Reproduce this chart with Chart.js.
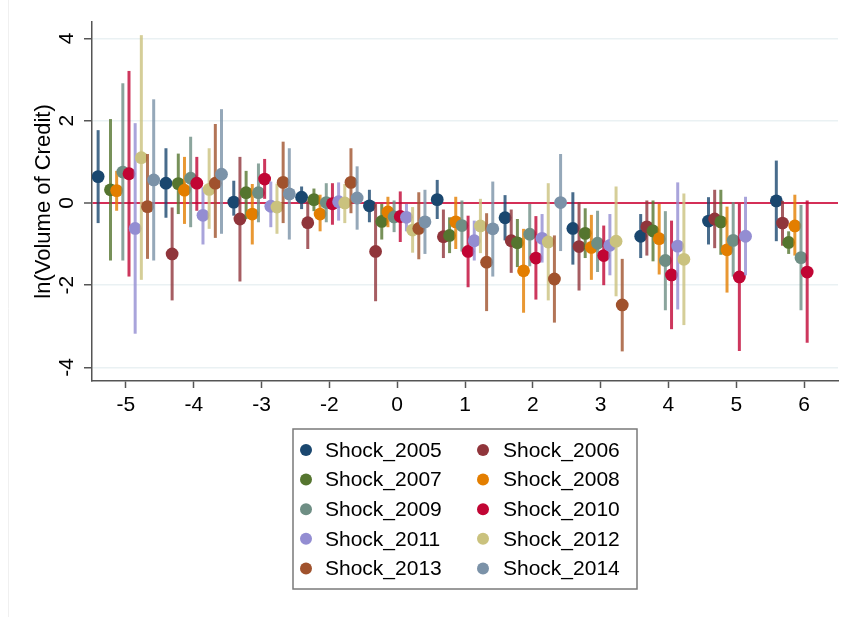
<!DOCTYPE html>
<html><head><meta charset="utf-8">
<script src="https://cdn.jsdelivr.net/npm/chart.js@4.4.1/dist/chart.umd.min.js"></script>
<style>html,body{margin:0;padding:0;background:#fff}</style>
</head><body>
<canvas id="c" width="851" height="617"></canvas>
<script>
// ---- data ----
const categories = ['-5','-4','-3','-2','0','1','2','3','4','5','6'];
const yTickValues = [-4, -2, 0, 2, 4];
const seriesNames = ['Shock_2005','Shock_2006','Shock_2007','Shock_2008','Shock_2009',
                     'Shock_2010','Shock_2011','Shock_2012','Shock_2013','Shock_2014'];
const yTitle = 'ln(Volume of Credit)';

const coef_2005 = [0.64, 0.48, 0.02, 0.14, -0.07, 0.08, -0.36, -0.62, -0.81, -0.44, 0.05];
const hi_2005   = [1.77, 1.33, 0.54, 0.40, 0.32, 0.56, 0.19, 0.26, -0.27, 0.14, 1.03];
const lo_2005   = [-0.49, -0.36, -0.31, -0.15, -0.47, -0.39, -0.91, -1.50, -1.34, -1.01, -0.93];

const coef_2006 = [null, -1.24, -0.39, -0.48, -1.18, -0.82, -0.92, -1.06, -0.58, -0.39, -0.49];
const hi_2006   = [null, -0.11, 1.12, 0.06, 0.00, -0.16, -0.16, 0.02, 0.06, 0.32, 0.05];
const lo_2006   = [null, -2.37, -1.91, -1.12, -2.39, -1.34, -1.70, -2.13, -1.28, -1.10, -1.04];

const coef_2007 = [0.32, 0.47, 0.25, 0.08, -0.45, -0.79, -0.97, -0.74, -0.68, -0.46, -0.96];
const hi_2007   = [2.04, 1.20, 0.78, 0.35, 0.00, -0.35, -0.39, -0.13, 0.06, 0.32, -0.69];
const lo_2007   = [-1.40, -0.27, -0.39, -0.20, -0.89, -1.22, -1.56, -1.34, -1.42, -1.26, -1.24];

const coef_2008 = [0.30, 0.31, -0.27, -0.27, -0.22, -0.46, -1.65, -1.08, -0.87, -1.14, -0.56];
const hi_2008   = [0.78, 1.12, 0.46, 0.20, 0.15, 0.15, -0.63, -0.29, 0.00, -0.09, 0.20];
const lo_2008   = [-0.19, -0.51, -1.01, -0.69, -0.59, -1.12, -2.67, -1.87, -1.74, -2.18, -1.28];

const coef_2009 = [0.75, 0.60, 0.25, 0.01, -0.34, -0.55, -0.76, -0.98, -1.40, -0.91, -1.33];
const hi_2009   = [2.91, 1.61, 0.96, 0.48, 0.06, 0.06, 0.00, -0.19, -0.20, 0.02, -0.05];
const lo_2009   = [-1.40, -0.59, -0.47, -0.47, -0.71, -1.18, -1.54, -1.68, -2.61, -1.79, -2.61];

const coef_2010 = [0.71, 0.48, 0.58, -0.02, -0.33, -1.18, -1.34, -1.28, -1.75, -1.80, -1.68];
const hi_2010   = [3.21, 1.12, 1.07, 0.48, 0.28, -0.31, -0.32, -0.55, -0.43, -0.02, 0.06];
const lo_2010   = [-1.79, -0.19, 0.10, -0.53, -0.95, -2.05, -2.35, -2.00, -3.07, -3.60, -3.40];

const coef_2011 = [-0.62, -0.30, -0.08, 0.03, -0.35, -0.92, -0.86, -1.03, -1.05, -0.81, null];
const hi_2011   = [1.94, 0.38, 0.52, 0.50, 0.00, -0.43, -0.27, -0.27, 0.50, 0.15, null];
const lo_2011   = [-3.18, -1.01, -0.59, -0.43, -0.69, -1.40, -1.45, -1.76, -2.59, -1.76, null];

const coef_2012 = [1.10, 0.33, -0.10, 0.00, -0.66, -0.56, -0.95, -0.93, -1.37, null, null];
const hi_2012   = [4.08, 1.33, 0.47, 0.46, -0.10, 0.10, 0.48, 0.40, 0.23, null, null];
const lo_2012   = [-1.87, -0.63, -0.75, -0.49, -1.21, -1.22, -2.37, -2.27, -2.97, null, null];

const coef_2013 = [-0.09, 0.48, 0.50, 0.50, -0.62, -1.44, -1.85, -2.48, null, null, null];
const hi_2013   = [1.19, 1.92, 1.49, 1.33, 0.26, -0.25, -0.79, -1.36, null, null, null];
const lo_2013   = [-1.36, -0.85, -0.49, -0.25, -1.37, -2.63, -2.91, -3.61, null, null, null];

const coef_2014 = [0.56, 0.70, 0.22, 0.12, -0.46, -0.63, 0.01, null, null, null, null];
const hi_2014   = [2.52, 2.28, 1.33, 0.89, 0.32, 0.52, 1.19, null, null, null, null];
const lo_2014   = [-1.40, -0.75, -0.89, -0.65, -1.24, -1.79, -1.17, null, null, null, null];

// ---- styling ----
const FONT = "'Liberation Sans', Arial, Helvetica, sans-serif";
const colors = ['#1a476f','#90353b','#55752f','#e37e00','#6e8e84',
                '#c10534','#938dd2','#cac27e','#a0522d','#7b92a8'];
const DODGE = 0.091;
const series = [
  [coef_2005, lo_2005, hi_2005], [coef_2006, lo_2006, hi_2006], [coef_2007, lo_2007, hi_2007],
  [coef_2008, lo_2008, hi_2008], [coef_2009, lo_2009, hi_2009], [coef_2010, lo_2010, hi_2010],
  [coef_2011, lo_2011, hi_2011], [coef_2012, lo_2012, hi_2012], [coef_2013, lo_2013, hi_2013],
  [coef_2014, lo_2014, hi_2014]
];
function withAlpha(hex, a) {
  const n = parseInt(hex.slice(1), 16);
  return `rgba(${n >> 16},${(n >> 8) & 255},${n & 255},${a})`;
}

const datasets = [];
series.forEach(([coef, lo, hi], i) => {
  const off = (i - 4.5) * DODGE;
  const pts = [], cis = [];
  categories.forEach((c, j) => {
    if (coef[j] === null) return;
    pts.push({x: j + off, y: coef[j]});
    cis.push({x: j + off, y: [lo[j], hi[j]]});
  });
  datasets.push({
    type: 'bar', label: seriesNames[i] + ' CI', data: cis,
    backgroundColor: withAlpha(colors[i], 0.8), borderWidth: 0,
    grouped: false, maxBarThickness: 3, order: 19 - 2 * i
  });
  datasets.push({
    type: 'scatter', label: seriesNames[i], data: pts,
    backgroundColor: colors[i], borderWidth: 0, pointRadius: 6.4,
    pointBorderWidth: 0, order: 18 - 2 * i
  });
});

const boxLegend = {
  id: 'boxLegend',
  beforeDraw(chart) {
    const ctx = chart.ctx;
    ctx.save();
    ctx.fillStyle = '#ffffff';
    ctx.fillRect(0, 0, chart.width, chart.height);
    ctx.strokeStyle = '#f0f0f0';
    ctx.lineWidth = 1;
    ctx.beginPath(); ctx.moveTo(8.5, 0); ctx.lineTo(8.5, chart.height); ctx.stroke();
    ctx.restore();
  },
  afterDraw(chart) {
    const ctx = chart.ctx;
    const items = chart.data.datasets.filter(d => d.type === 'scatter');
    ctx.save();
    ctx.strokeStyle = '#7a7a7a';
    ctx.lineWidth = 1.5;
    ctx.strokeRect(293, 429, 344, 160);
    ctx.font = '21px ' + FONT;
    ctx.textBaseline = 'middle';
    ctx.textAlign = 'left';
    items.forEach((d, i) => {
      const col = i % 2, row = Math.floor(i / 2);
      const cy = 450 + row * 29.6;
      const mx = col ? 483 : 306;
      const tx = col ? 503 : 325;
      ctx.fillStyle = d.backgroundColor;
      ctx.beginPath(); ctx.arc(mx, cy, 6, 0, Math.PI * 2); ctx.fill();
      ctx.fillStyle = '#000';
      ctx.fillText(d.label, tx, cy + 1);
    });
    ctx.restore();
  }
};

new Chart(document.getElementById('c'), {
  type: 'scatter',
  data: { datasets },
  plugins: [boxLegend],
  options: {
    responsive: false,
    animation: false,
    layout: { padding: { top: 22, left: 0, right: 13, bottom: 200 } },
    plugins: { legend: { display: false }, tooltip: { enabled: false } },
    scales: {
      x: {
        type: 'linear', min: -0.5, max: 10.5, offset: false,
        afterBuildTicks: s => { s.ticks = categories.map((c, j) => ({ value: j })); },
        afterFit: s => { s.height = 36; },
        ticks: {
          callback: (v, idx) => categories[idx],
          font: { family: FONT, size: 21 }, color: '#000',
          padding: 5, autoSkip: false, maxRotation: 0, minRotation: 0
        },
        grid: { offset: false, drawOnChartArea: false, drawTicks: true, tickLength: 7, tickColor: '#555', tickWidth: 1.5 },
        border: { display: true, color: '#555', width: 1.5 }
      },
      y: {
        type: 'linear', min: -4.33, max: 4.4, offset: false, beginAtZero: false,
        afterBuildTicks: s => { s.ticks = yTickValues.map(v => ({ value: v })); },
        afterFit: s => { s.width = 92; },
        ticks: {
          callback: v => String(v),
          font: { family: FONT, size: 21 }, color: '#000',
          minRotation: 90, maxRotation: 90, crossAlign: 'center', padding: 7
        },
        grid: {
          offset: false,
          color: c => (c.tick && c.tick.value === 0) ? '#d42f57' : '#eaf1f3',
          lineWidth: c => (c.tick && c.tick.value === 0) ? 2 : 1.5,
          tickColor: '#555', tickLength: 8, tickWidth: 1.5, drawTicks: true
        },
        border: { display: true, color: '#555', width: 1.5 },
        title: {
          display: true, text: yTitle, color: '#000', align: 'center',
          font: { family: FONT, size: 22 }, padding: { top: 31, bottom: 0 }
        }
      }
    }
  }
});
</script>
</body></html>
